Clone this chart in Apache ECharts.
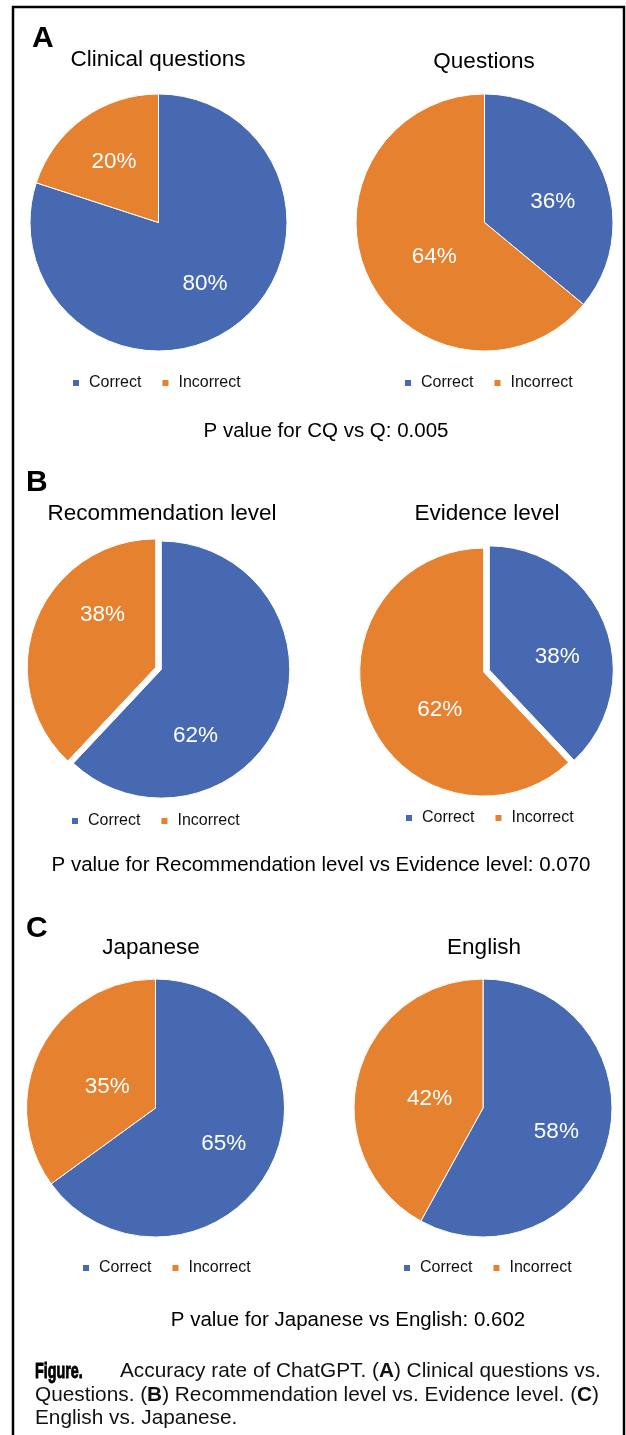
<!DOCTYPE html>
<html>
<head>
<meta charset="utf-8">
<title>Accuracy rate of ChatGPT</title>
<script src="https://cdn.jsdelivr.net/npm/echarts@6/dist/echarts.min.js"></script>
<style>
  html, body { margin: 0; padding: 0; background: #fff; }
  #chart { width: 626px; height: 1435px; }
</style>
</head>
<body>
<div id="chart"></div>
<script>
// ---- data ----
const legendNames = ['Correct', 'Incorrect'];
const clinicalQuestions = [80, 20];
const questions = [36, 64];
const recommendationLevel = [62, 38];
const evidenceLevel = [38, 62];
const japanese = [65, 35];
const english = [58, 42];
const chartTitles = ['Clinical questions', 'Questions', 'Recommendation level', 'Evidence level', 'Japanese', 'English'];
const panelLetters = ['A', 'B', 'C'];
const pValueTexts = [
  'P value for CQ vs Q: 0.005',
  'P value for Recommendation level vs Evidence level: 0.070',
  'P value for Japanese vs English: 0.602'
];

// ---- styling / layout ----
const FONT = '"Liberation Sans", Arial, Helvetica, sans-serif';
const COLORS = ['#4769B1', '#E5812F'];

// one entry per pie: centre, radius, exploded or not, title / legend placement,
// and a small nudge for each percentage label (Correct, Incorrect)
const pies = [
  { values: clinicalQuestions,   center: [158.5, 222.5], r: 128.5, explode: false, titleX: 158, titleY: 60,  legend: [73, 383],
    nudge: [[1, -1], [1, 2]] },
  { values: questions,           center: [484.5, 222.5], r: 128.5, explode: false, titleX: 484, titleY: 62,  legend: [405, 383],
    nudge: [[-2, 12], [20, 1]] },
  { values: recommendationLevel, center: [158.5, 668.5], r: 128.5, explode: true,  titleX: 162, titleY: 514, legend: [72, 821],
    nudge: [[-35, 39], [16, -25]] },
  { values: evidenceLevel,       center: [486.5, 671],   r: 124,   explode: true,  titleX: 487, titleY: 514, legend: [406, 818],
    nudge: [[1, 13], [23, 11]] },
  { values: japanese,            center: [155.5, 1108],  r: 129,   explode: false, titleX: 151, titleY: 948, legend: [83, 1268],
    nudge: [[-1, 0], [21, 14]] },
  { values: english,             center: [483, 1108],    r: 129,   explode: false, titleX: 484, titleY: 948, legend: [404, 1268],
    nudge: [[-2, 4], [22, 10]] }
];
const letterPos = [[32, 39], [26, 483], [26, 929]];
const pValuePos = [[326, 431], [321, 865], [348, 1320]];

function pieSeries(p) {
  const slices = p.values.map((v, i) => ({
    name: legendNames[i],
    value: v,
    selected: p.explode,
    itemStyle: { color: COLORS[i] }
  }));
  const labelSlices = p.values.map((v, i) => ({
    name: legendNames[i],
    value: v,
    itemStyle: { color: 'rgba(0,0,0,0)', borderWidth: 0 },
    label: { offset: p.nudge[i] }
  }));
  return [
    {
      type: 'pie',
      center: p.center,
      radius: [0, p.r],
      startAngle: 90,
      clockwise: true,
      selectedMode: p.explode ? 'multiple' : false,
      selectedOffset: 3,
      data: slices,
      label: { show: false },
      labelLine: { show: false },
      itemStyle: { borderColor: '#fff', borderWidth: 1 },
      select: { itemStyle: { borderColor: '#fff', borderWidth: 1 } },
      emphasis: { disabled: true }
    },
    {
      // label ring: places the percentage text at ~0.58 of the radius
      type: 'pie',
      center: p.center,
      radius: [p.r * 0.16, p.r],
      startAngle: 90,
      clockwise: true,
      silent: true,
      data: labelSlices,
      label: {
        show: true,
        position: 'inside',
        formatter: '{c}%',
        color: '#fff',
        fontSize: 22.5,
        fontFamily: FONT
      },
      labelLine: { show: false },
      emphasis: { disabled: true }
    }
  ];
}

const series = [];
pies.forEach(p => series.push(...pieSeries(p)));

const legends = pies.map(p => ({
  data: legendNames,
  left: p.legend[0],
  top: p.legend[1] - 9,
  orient: 'horizontal',
  icon: 'rect',
  itemWidth: 6,
  itemHeight: 6,
  itemGap: 21,
  padding: 0,
  selectedMode: false,
  itemStyle: { borderWidth: 0 },
  textStyle: { fontSize: 16, lineHeight: 18, color: '#111', fontFamily: FONT, padding: [0, 0, 0, 5] }
}));

const graphics = [
  // frame
  { type: 'rect', shape: { x: 13, y: 7, width: 611, height: 1500 },
    style: { fill: 'none', stroke: '#000', lineWidth: 2.5 }, silent: true }
];
panelLetters.forEach((t, i) => graphics.push({
  type: 'text', silent: true,
  style: { text: t, x: letterPos[i][0], y: letterPos[i][1], textAlign: 'left', textVerticalAlign: 'middle',
           fontFamily: FONT, fontWeight: 'bold', fontSize: 30, fill: '#000' }
}));
pies.forEach((p, i) => graphics.push({
  type: 'text', silent: true,
  style: { text: chartTitles[i], x: p.titleX, y: p.titleY, textAlign: 'center', textVerticalAlign: 'middle',
           fontFamily: FONT, fontSize: 22.5, fill: '#000' }
}));
pValueTexts.forEach((t, i) => graphics.push({
  type: 'text', silent: true,
  style: { text: t, x: pValuePos[i][0], y: pValuePos[i][1], textAlign: 'center', textVerticalAlign: 'middle',
           fontFamily: FONT, fontSize: 20.5, fill: '#000' }
}));

// figure caption: condensed heavy label, then the body text with bold panel letters
graphics.push({
  type: 'text', silent: true, x: 35, y: 1371.5, scaleX: 0.65, scaleY: 1,
  style: { text: 'Figure.', x: 0, y: 0, textAlign: 'left', textVerticalAlign: 'middle',
           fontFamily: FONT, fontWeight: 900, fontSize: 22, fill: '#000', stroke: '#000', lineWidth: 0.9 }
});
const captionRich = { b: { fontFamily: FONT, fontWeight: 'bold', fontSize: 20.8, fill: '#111' } };
const captionLines = [
  { x: 120, text: 'Accuracy rate of ChatGPT. ({b|A}) Clinical questions vs.' },
  { x: 35,  text: 'Questions. ({b|B}) Recommendation level vs. Evidence level. ({b|C})' },
  { x: 35,  text: 'English vs. Japanese.' }
];
captionLines.forEach((l, i) => graphics.push({
  type: 'text', silent: true,
  style: { text: l.text, x: l.x, y: 1371.5 + i * 23.3, textAlign: 'left', textVerticalAlign: 'middle',
           fontFamily: FONT, fontSize: 20.8, fill: '#111', rich: captionRich }
}));

const chart = echarts.init(document.getElementById('chart'), null, { renderer: 'canvas' });
chart.setOption({
  backgroundColor: '#fff',
  animation: false,
  legend: legends,
  series: series,
  graphic: graphics
});
</script>
</body>
</html>
